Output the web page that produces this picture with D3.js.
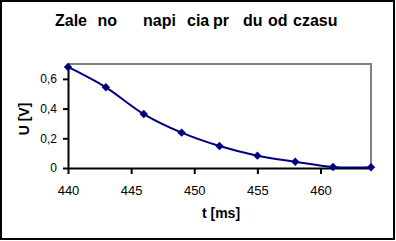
<!DOCTYPE html>
<html>
<head>
<meta charset="utf-8">
<script src="https://cdn.jsdelivr.net/npm/d3@7"></script>
<style>
  body { margin: 0; background: #fff; }
  text { font-family: "Liberation Sans", Arial, sans-serif; }
</style>
</head>
<body>
<script>
// data
const times = [440, 443, 446, 449, 452, 455, 458, 461, 464];
const voltages = [0.68, 0.543, 0.363, 0.238, 0.148, 0.083, 0.042, 0.007, 0.005];
const xTicks = [440, 445, 450, 455, 460];
const yTicks = [0, 0.2, 0.4, 0.6];
// title as shown: the Polish letters are missing, leaving gaps
const titleWords = ['Zale', 'no', 'napi', 'cia', 'pr', 'du', 'od', 'czasu'];
const titleX = [55, 97.5, 143, 187, 213, 243, 268, 293];

const width = 396, height = 241;
const plot = { left: 68, right: 371, top: 64, bottom: 168 };

const svg = d3.select('body')
    .append('svg')
    .attr('width', width)
    .attr('height', height);

// outer frame
svg.append('rect')
    .attr('x', 1).attr('y', 1)
    .attr('width', 393).attr('height', 238)
    .attr('fill', 'none')
    .attr('stroke', '#000')
    .attr('stroke-width', 2);

const x = d3.scaleLinear().domain([440, 464]).range([plot.left, plot.right]);
const y = d3.scaleLinear().domain([0, 0.7]).range([plot.bottom, plot.top]);

// top and right border of plot area (gray)
svg.append('path')
    .attr('d', `M${plot.left},${plot.top}H${plot.right}V${plot.bottom}`)
    .attr('fill', 'none')
    .attr('stroke', '#808080')
    .attr('stroke-width', 2);

// axes
const fmt = d => d === 0 ? '0' : d3.format('.1f')(d).replace('.', ',');

const xAxis = svg.append('g')
    .attr('transform', `translate(0,${plot.bottom})`)
    .call(d3.axisBottom(x).tickValues(xTicks).tickSize(6).tickPadding(12).tickSizeOuter(0));

const yAxis = svg.append('g')
    .attr('transform', `translate(${plot.left},0)`)
    .call(d3.axisLeft(y).tickValues(yTicks).tickSize(5).tickPadding(6).tickSizeOuter(0)
        .tickFormat(fmt));

[xAxis, yAxis].forEach(g => {
    g.select('.domain').attr('stroke', '#000').attr('stroke-width', 2);
    g.selectAll('.tick line').attr('stroke', '#000').attr('stroke-width', 2);
    g.selectAll('.tick text')
        .attr('fill', '#000')
        .style('font-family', '"Liberation Sans", Arial, sans-serif');
});
xAxis.selectAll('.tick text').style('font-size', '13px');
yAxis.selectAll('.tick text').style('font-size', '12px');

// smoothed line
const line = d3.line()
    .x((d, i) => x(times[i]))
    .y(d => y(d))
    .curve(d3.curveCatmullRom.alpha(0.5));

svg.append('path')
    .datum(voltages)
    .attr('d', line)
    .attr('fill', 'none')
    .attr('stroke', '#000080')
    .attr('stroke-width', 2);

// diamond markers
svg.selectAll('.marker')
    .data(voltages)
    .join('path')
        .attr('class', 'marker')
        .attr('d', d3.symbol(d3.symbolDiamond2, 45))
        .attr('transform', (d, i) => `translate(${x(times[i])},${y(d)})`)
        .attr('fill', '#000080');

// title
svg.append('text')
    .attr('y', 26)
    .style('font-size', '16px')
    .style('font-weight', 'bold')
    .selectAll('tspan')
    .data(titleWords)
    .join('tspan')
        .attr('x', (d, i) => titleX[i])
        .text(d => d);

// axis titles
svg.append('text')
    .attr('x', 221)
    .attr('y', 218)
    .attr('text-anchor', 'middle')
    .style('font-size', '14px')
    .style('font-weight', 'bold')
    .text('t [ms]');

svg.append('text')
    .attr('transform', 'translate(29,119) rotate(-90)')
    .attr('text-anchor', 'middle')
    .style('font-size', '14px')
    .style('font-weight', 'bold')
    .text('U [V]');
</script>
</body>
</html>
